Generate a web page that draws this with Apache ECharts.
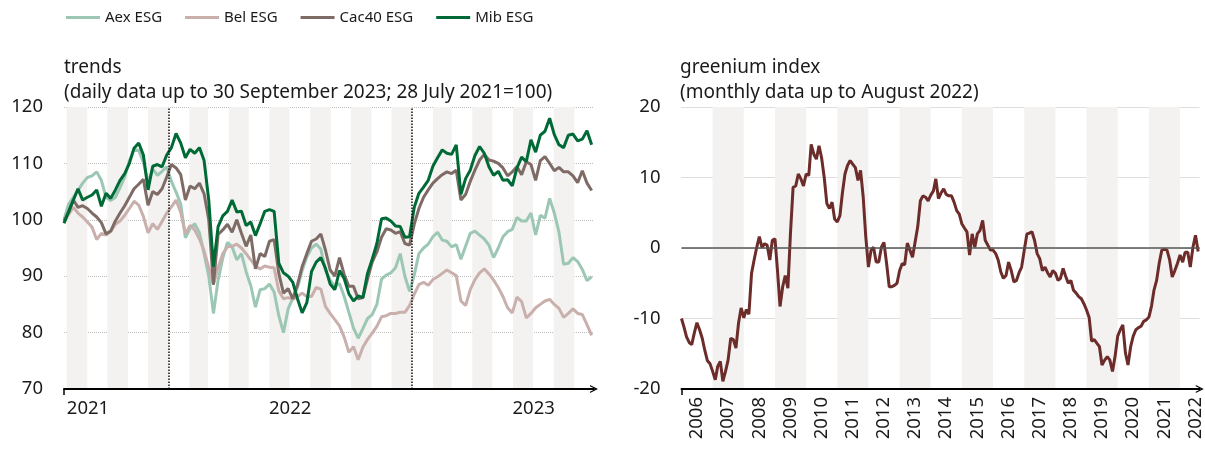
<!DOCTYPE html>
<html>
<head>
<meta charset="UTF-8">
<title>trends and greenium index</title>
<script src="https://cdn.jsdelivr.net/npm/echarts@6/dist/echarts.min.js"></script>
<style>
  html, body { margin: 0; padding: 0; background: #fff; }
  #main { width: 1205px; height: 449px; }
</style>
</head>
<body>
<div id="main"></div>
<script>
// ---- data (weekly readings from 28 July 2021, 28 July 2021 = 100) ----
var aexEsg = [
  100, 102.8, 104, 105.2, 106.5, 107.5, 107.8, 108.5, 107, 104,
  103.4, 104, 105.7, 107.6, 110.5, 112.5, 112.3, 110.2, 106.7, 109,
  107.9, 108.6, 109.4, 106.8, 104.9, 102.8, 96.8, 98.5, 99.3, 97.7,
  94, 90, 83.4, 89.3, 93.2, 96, 95.2, 92.9, 94, 90.8,
  88.3, 84.5, 87.6, 87.8, 88.6, 87.2, 83, 80, 84.2, 86.1,
  88, 91, 93.4, 95, 95.7, 94.8, 91, 89.3, 88.2, 88.7,
  86.4, 83.6, 80.8, 79, 80.7, 82.5, 83.2, 85, 89.5, 90.2,
  90.6, 91.5, 94, 90, 87.3, 90.2, 94, 95, 95.7, 97,
  97.8, 96.4, 96.2, 95.2, 95.6, 93, 95.3, 97.6, 98, 97.3,
  96.6, 95.5, 93.3, 95, 97, 97.9, 98.3, 100.4, 99.8, 99.8,
  101.2, 97.3, 100.8, 100.3, 103.8, 101.2, 97.8, 92.1, 92.3, 93.3,
  92.6, 91.2, 89.2, 89.9
];
var belEsg = [
  99.4, 101, 102.2, 101.2, 100.5, 99.6, 98.7, 96.5, 97.6, 97.3,
  97.9, 99.2, 99.8, 100.8, 102, 103.3, 102.6, 100.6, 97.7, 99.3,
  98.3, 99.7, 101.2, 102.3, 103.5, 101.3, 97.5, 99, 98.2, 96.6,
  94.5, 91.5, 88.5, 91.6, 94, 95.2, 95.3, 95.7, 95, 94,
  92.9, 91.8, 91.3, 91.8, 91.6, 91.5, 87.4, 86, 86.2, 85.9,
  86.4, 87, 86.4, 86.4, 88, 87.7, 84.6, 83.4, 82.3, 81.2,
  79.2, 76.5, 77.5, 75.2, 77.4, 78.8, 79.9, 81.1, 82.8, 83,
  83.4, 83.4, 83.6, 83.6, 84.8, 86.8, 88.5, 88.9, 88.4, 89.4,
  89.9, 90.5, 91.1, 90.6, 90.1, 85.6, 84.8, 87.6, 89.4, 90.6,
  91.3, 90.4, 89.3, 88, 86.4, 84.4, 83.5, 86.3, 85.5, 82.6,
  83.4, 84.4, 85, 85.6, 85.9, 85, 84.3, 82.7, 83.4, 84.2,
  83.4, 83.2, 81.4, 79.5
];
var cac40Esg = [
  99.8, 101.3, 103.5, 102.2, 102.5, 102, 101.2, 100.5, 99.5, 97.5,
  98, 99.8, 101.2, 102.5, 104, 105.5, 106.3, 107.2, 102.6, 105,
  104.5, 105.5, 107.6, 109.8, 109.2, 108, 103.5, 106, 105.5, 106.5,
  104.6, 100, 88.5, 97.4, 98.2, 99.2, 97.8, 100, 97.6, 95.3,
  97.3, 91.3, 94, 93.5, 96.2, 96.5, 90.5, 87, 87.8, 86,
  88.5, 91.7, 94, 96.2, 96.6, 97.5, 94.6, 91.1, 90, 93.3,
  90.3, 88.2, 88.2, 86, 86.2, 89.5, 92.5, 94.3, 96.9, 98.4,
  98.2, 97.6, 97.9, 95.8, 95.5, 99.2, 102, 104, 105.3, 106.5,
  107.3, 108, 108.5, 108.2, 108.8, 103.5, 104.5, 106.8, 108.8, 110.6,
  111.6, 110.6, 110.4, 110, 109.2, 107.8, 108.5, 109.4, 108, 110.3,
  109.8, 107, 110.5, 111.2, 110, 108.7, 109.3, 108.5, 108.5, 107.8,
  106.6, 108.7, 106.5, 105.2
];
var mibEsg = [
  99.4, 101.5, 103.5, 105.5, 103.5, 104, 104.4, 105.3, 102.4, 104.7,
  103.8, 105.3, 107, 108.2, 110, 112.7, 113.6, 111.5, 105.3, 109.5,
  109.8, 109.4, 111.5, 112.8, 115.3, 113.6, 111, 112.5, 111.8, 112.8,
  110.5, 103.5, 91.7, 98.8, 100.7, 101.5, 103.5, 101.4, 101.5, 99,
  99.6, 97.2, 99.3, 101.5, 101.8, 101.5, 92.3, 90.6, 90, 88.9,
  86, 83.5, 85.3, 90.8, 92.5, 93.3, 91.4, 88.6, 87.6, 91,
  89.6, 86.9, 85.6, 86.5, 86.2, 90.5, 93, 95.8, 100.2, 100.3,
  99.8, 98.9, 98.8, 96.9, 97, 102.2, 104.7, 105.8, 107, 109.5,
  111, 112.4, 111.8, 111.6, 113.3, 104.5, 107.3, 108.8, 111.4, 113,
  111.8, 109.4, 107.9, 108.6, 107, 107.1, 106, 109.2, 111.1, 110.3,
  114.2, 112, 115, 115.7, 118, 115.1, 113.3, 112.8, 115, 115.2,
  114, 114.3, 115.8, 113.3
];

// ---- data (monthly, January 2006 to August 2022) ----
var greenium = [
  -10, -11.3, -12.6, -13.4, -13.7, -12, -10.6, -11.6, -12.8, -14.5,
  -16, -16.4, -17.5, -18.7, -16.8, -16.1, -18.9, -17.5, -15.9, -12.8,
  -13, -14.2, -10.6, -8.5, -9.9, -8.7, -9.4, -3.6, -1.7, 0.1,
  1.6, 0.1, 0.6, 0.4, -1.7, 1.1, 1.3, -3.5, -8.3, -5.5,
  -3.9, -5.7, 2, 8.6, 8.8, 10.5, 9.8, 8.8, 10.5, 10.3,
  14.7, 13.3, 12.6, 14.5, 12.8, 10, 6.3, 5.6, 6.5, 4.1,
  3.7, 4.6, 7.7, 10.5, 11.7, 12.4, 11.9, 11.4, 9.6, 11,
  7.2, 1.6, -2.7, -0.3, 0.1, -2, -2, 0.1, 0.8, -2.2,
  -5.5, -5.5, -5.3, -5, -3.2, -2.2, -2.4, 0.7, -0.3, -1.3,
  0.8, 3, 6.7, 7.4, 7.2, 6.7, 7.5, 8.1, 9.8, 7,
  7.8, 8.4, 7.6, 7.4, 7.4, 6.5, 5.3, 4.8, 3.4, 2.8,
  2.3, -1, 2, 0.1, 2, 2.5, 3.9, 1.1, 0.4, -0.3,
  -0.3, -0.8, -1.7, -3.4, -4.3, -3.9, -2, -3.2, -4.8, -4.6,
  -3.5, -2.7, -0.3, 2, 2.1, 2.3, 1.1, -0.8, -1.5, -3.2,
  -2.7, -3.5, -4.1, -3.2, -3.6, -4.6, -4.3, -2.9, -4, -5,
  -4.6, -6, -6.4, -6.9, -7.2, -7.9, -8.8, -9.9, -13.2, -13,
  -13.5, -14, -16.6, -15.9, -15.4, -15.9, -17.5, -15.4, -12.5, -11.6,
  -10.9, -14.9, -16.6, -14, -12.5, -11.6, -11.3, -11.1, -10.4, -10.2,
  -9.8, -8.2, -6, -4.6, -2.2, -0.3, -0.2, -0.3, -1.7, -4.1,
  -3.2, -2.2, -1, -2, -0.6, -0.6, -2.7, 0.1, 1.8, -0.5
];

var seriesNames = ['Aex ESG', 'Bel ESG', 'Cac40 ESG', 'Mib ESG'];
var seriesColors = ['#9cc7b4', '#c9b0ac', '#7f6b65', '#006a37'];
var trendYears = [['2021-09-02', '2021'], ['2022-07-02', '2022'], ['2023-07-02', '2023']];
var greeniumFirstYear = 2006, greeniumLastYear = 2022;

var DAY = 86400000;
function ts(s) { var p = s.split('-'); return Date.UTC(+p[0], +p[1] - 1, +p[2]); }
var trendStart = ts('2021-07-28');
var greeniumStart = ts('2006-01-01');

function weekly(values) {
  return values.map(function (v, i) { return [trendStart + i * 7 * DAY, v]; });
}
function monthly(values) {
  return values.map(function (v, i) { return [Date.UTC(2006, i, 1), v]; });
}

// shaded months (left) and shaded years (right)
var trendBands = [];
for (var k = 0; k < 13; k++) {
  trendBands.push([{ xAxis: Date.UTC(2021, 7 + 2 * k, 1) }, { xAxis: Date.UTC(2021, 8 + 2 * k, 1) }]);
}
var greeniumBands = [];
for (var y = 2007; y <= 2021; y += 2) {
  greeniumBands.push([{ xAxis: Date.UTC(y, 0, 1) }, { xAxis: Date.UTC(y + 1, 0, 1) }]);
}
var greeniumLabelValues = [];
for (var yy = greeniumFirstYear; yy <= greeniumLastYear; yy++) greeniumLabelValues.push(Date.UTC(yy, 6, 1));
var trendLabelValues = trendYears.map(function (d) { return ts(d[0]); });

function yearOf(v) { return String(new Date(v).getUTCFullYear()); }

var FONT = 'Noto Sans';
var TEXT = '#1a1a1a';
var arrow = 'path://M0,10 L5,0 L10,10 L8.4,10 L5,3.2 L1.6,10 Z';

var myChart = echarts.init(document.getElementById('main'));

var option = {
  animation: false,
  backgroundColor: '#fff',
  textStyle: { fontFamily: FONT, color: TEXT },
  legend: {
    left: 66, top: 10, padding: 0,
    icon: 'rect', itemWidth: 34, itemHeight: 3, itemGap: 23,
    textStyle: { fontFamily: FONT, fontSize: 15, color: TEXT },
    data: seriesNames
  },
  title: [
    {
      left: 64, top: 55, padding: 0,
      text: 'trends\n(daily data up to 30 September 2023; 28 July 2021=100)',
      textStyle: { fontFamily: FONT, fontSize: 19, fontWeight: 'normal', color: TEXT, lineHeight: 25 }
    },
    {
      left: 680, top: 55, padding: 0,
      text: 'greenium index\n(monthly data up to August 2022)',
      textStyle: { fontFamily: FONT, fontSize: 19, fontWeight: 'normal', color: TEXT, lineHeight: 25 }
    }
  ],
  grid: [
    { left: 64, top: 107, width: 530, height: 282 },
    { left: 681.5, top: 107, width: 519, height: 282 }
  ],
  xAxis: [
    {
      type: 'value', gridIndex: 0, scale: true, z: 10,
      min: trendStart, max: trendStart + 113.5 * 7 * DAY,
      axisLine: { show: true, onZero: false, symbol: ['none', arrow], symbolSize: [12, 8], lineStyle: { color: '#000', width: 2 } },
      axisTick: { show: true, customValues: [trendStart], length: 6, lineStyle: { color: '#000', width: 1.5 } },
      axisLabel: {
        customValues: trendLabelValues, formatter: yearOf,
        fontFamily: FONT, fontSize: 18.5, color: TEXT, margin: 10
      },
      splitLine: { show: false }
    },
    {
      type: 'value', gridIndex: 1, scale: true, z: 10,
      min: greeniumStart, max: Date.UTC(2006, 199, 20),
      axisLine: { show: true, onZero: false, symbol: ['none', arrow], symbolSize: [12, 8], lineStyle: { color: '#000', width: 2 } },
      axisTick: { show: true, customValues: [greeniumStart], length: 6, lineStyle: { color: '#000', width: 1.5 } },
      axisLabel: {
        customValues: greeniumLabelValues, formatter: yearOf,
        rotate: 90, fontFamily: FONT, fontSize: 18.5, color: TEXT, margin: 8
      },
      splitLine: { show: false }
    }
  ],
  yAxis: [
    {
      type: 'value', gridIndex: 0, min: 70, max: 120, interval: 10,
      axisLine: { show: false }, axisTick: { show: false },
      axisLabel: { fontFamily: FONT, fontSize: 18.5, color: TEXT, margin: 21 },
      splitLine: { show: true, lineStyle: { type: 'dotted', color: '#bdbdbd', width: 1 } }
    },
    {
      type: 'value', gridIndex: 1, min: -20, max: 20, interval: 10,
      axisLine: { show: false }, axisTick: { show: false },
      axisLabel: { fontFamily: FONT, fontSize: 18.5, color: TEXT, margin: 21 },
      splitLine: { show: true, lineStyle: { type: 'dotted', color: '#bdbdbd', width: 1 } }
    }
  ],
  series: [
    {
      name: 'bands-left', type: 'line', xAxisIndex: 0, yAxisIndex: 0, data: [], z: 1,
      markArea: { silent: true, itemStyle: { color: '#f3f2f0' }, data: trendBands },
      markLine: {
        silent: true, symbol: 'none', label: { show: false },
        lineStyle: { type: 'dotted', color: '#111', width: 1.5 },
        data: [{ xAxis: ts('2022-01-01') }, { xAxis: ts('2023-01-01') }]
      }
    },
    {
      name: 'bands-right', type: 'line', xAxisIndex: 1, yAxisIndex: 1, data: [], z: 1,
      markArea: { silent: true, itemStyle: { color: '#f3f2f0' }, data: greeniumBands },
      markLine: {
        silent: true, symbol: 'none', label: { show: false },
        lineStyle: { type: 'solid', color: '#555', width: 1.5 },
        data: [{ yAxis: 0 }]
      }
    },
    { name: seriesNames[0], type: 'line', xAxisIndex: 0, yAxisIndex: 0, showSymbol: false, z: 3,
      color: seriesColors[0], lineStyle: { width: 3, color: seriesColors[0] }, data: weekly(aexEsg) },
    { name: seriesNames[1], type: 'line', xAxisIndex: 0, yAxisIndex: 0, showSymbol: false, z: 3,
      color: seriesColors[1], lineStyle: { width: 3, color: seriesColors[1] }, data: weekly(belEsg) },
    { name: seriesNames[2], type: 'line', xAxisIndex: 0, yAxisIndex: 0, showSymbol: false, z: 3,
      color: seriesColors[2], lineStyle: { width: 3, color: seriesColors[2] }, data: weekly(cac40Esg) },
    { name: seriesNames[3], type: 'line', xAxisIndex: 0, yAxisIndex: 0, showSymbol: false, z: 3,
      color: seriesColors[3], lineStyle: { width: 3, color: seriesColors[3] }, data: weekly(mibEsg) },
    { name: 'greenium index', type: 'line', xAxisIndex: 1, yAxisIndex: 1, showSymbol: false, z: 3,
      color: '#6b2c2a', lineStyle: { width: 3, color: '#6b2c2a' }, data: monthly(greenium) }
  ]
};

myChart.setOption(option);
</script>
</body>
</html>
